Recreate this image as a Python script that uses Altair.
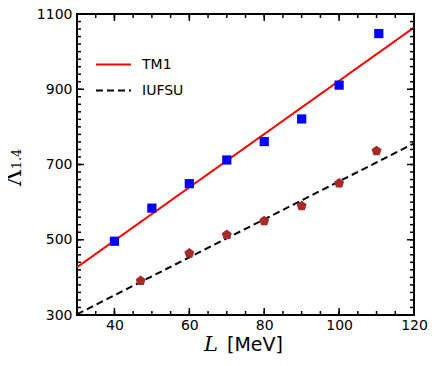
import altair as alt
import pandas as pd

# ---- data ----
tm1_L = [40, 50, 60, 70, 80, 90, 100, 110.6]
tm1_lam = [496, 584, 649, 712, 761, 821, 911, 1048]
iufsu_L = [47, 60, 70, 80, 90, 100, 110]
iufsu_lam = [391, 464, 513, 550, 590, 650, 736]
fit_L = [30, 120]
tm1_fit = [427, 1064]
iufsu_fit = [302, 756]
models = ["TM1", "IUFSU"]
x_minor = list(range(30, 121, 5))
y_minor = list(range(300, 1101, 20))
x_major = [40, 60, 80, 100, 120]
y_major = [300, 500, 700, 900, 1100]

W, H = 337, 301

pts_tm1 = pd.DataFrame({"L": tm1_L, "lam": tm1_lam})
pts_iu = pd.DataFrame({"L": iufsu_L, "lam": iufsu_lam})
lines = pd.DataFrame({
    "L": fit_L + fit_L,
    "lam": tm1_fit + iufsu_fit,
    "model": [models[0]] * 2 + [models[1]] * 2,
})

xs = alt.Scale(domain=[30, 120], nice=False, zero=False)
ys = alt.Scale(domain=[300, 1100], nice=False, zero=False)

leg = dict(title=None, orient="none", legendX=18, legendY=32,
           symbolType="stroke", symbolSize=1225, symbolStrokeWidth=2,
           labelFont="DejaVu Sans", labelFontSize=14, labelColor="black",
           rowPadding=-10, labelOffset=10)

line_layer = alt.Chart(lines).mark_line(strokeWidth=2, clip=True).encode(
    x=alt.X("L:Q", scale=xs, axis=alt.Axis(orient="bottom", values=x_major, ticks=False,
                                           domain=False, grid=False, title=None,
                                           labelFont="DejaVu Sans", labelFontSize=14,
                                           labelColor="black", labelPadding=3, format="d",
                                           labelFlush=False, labelOverlap=False)),
    y=alt.Y("lam:Q", scale=ys, axis=alt.Axis(orient="left", values=y_major, ticks=False,
                                             domain=False, grid=False, title=None,
                                             labelFont="DejaVu Sans", labelFontSize=14,
                                             labelColor="black", labelPadding=5, format="d",
                                             labelFlush=False, labelOverlap=False)),
    color=alt.Color("model:N", scale=alt.Scale(domain=models, range=["#ff0000", "black"]),
                    legend=alt.Legend(**leg)),
    strokeDash=alt.StrokeDash("model:N", scale=alt.Scale(domain=models, range=[[1, 0], [7, 4]]),
                              legend=alt.Legend(**leg)),
)

tm1_layer = alt.Chart(pts_tm1).mark_point(shape="square", filled=True, size=85,
                                          color="#0000ff", opacity=1).encode(
    x=alt.X("L:Q", scale=xs, axis=None),
    y=alt.Y("lam:Q", scale=ys, axis=None),
)

pent = "M0,-1L0.951,-0.309L0.588,0.809L-0.588,0.809L-0.951,-0.309Z"
iu_layer = alt.Chart(pts_iu).mark_point(shape=pent, filled=True, size=110,
                                        color="#a52a2a", opacity=1).encode(
    x=alt.X("L:Q", scale=xs, axis=None),
    y=alt.Y("lam:Q", scale=ys, axis=None),
)


# inward ticks on all four sides, placed through the shared scales
def xticks(values, size):
    d = pd.DataFrame({"v": values})
    base = alt.Chart(d).mark_rule(color="black", strokeWidth=1.5)
    bot = base.encode(x=alt.X("v:Q", scale=xs, axis=None),
                      y=alt.value(H), y2=alt.value(H - size))
    top = base.encode(x=alt.X("v:Q", scale=xs, axis=None),
                      y=alt.value(0), y2=alt.value(size))
    return [bot, top]


def yticks(values, size):
    d = pd.DataFrame({"v": values})
    base = alt.Chart(d).mark_rule(color="black", strokeWidth=1.5)
    left = base.encode(y=alt.Y("v:Q", scale=ys, axis=None),
                       x=alt.value(0), x2=alt.value(size))
    right = base.encode(y=alt.Y("v:Q", scale=ys, axis=None),
                        x=alt.value(W), x2=alt.value(W - size))
    return [left, right]


tick_layers = xticks(x_minor, 4) + xticks(x_major, 7) + yticks(y_minor, 4) + yticks(y_major, 7)

one = pd.DataFrame({"a": [0]})
ttl_lam = alt.Chart(one).mark_text(font="DejaVu Serif", fontSize=22, angle=270,
                                   align="center", baseline="middle", color="black").encode(
    x=alt.value(-63), y=alt.value(164), text=alt.value("Λ"))
ttl_sub = alt.Chart(one).mark_text(font="DejaVu Serif", fontSize=13, angle=270,
                                   align="center", baseline="middle", color="black").encode(
    x=alt.value(-60), y=alt.value(145), text=alt.value("1.4"))
ttl_L = alt.Chart(one).mark_text(font="DejaVu Serif", fontSize=21, fontStyle="italic",
                                 align="center", baseline="middle", color="black").encode(
    x=alt.value(134), y=alt.value(331), text=alt.value("L"))
ttl_mev = alt.Chart(one).mark_text(font="DejaVu Sans", fontSize=19,
                                   align="left", baseline="middle", color="black").encode(
    x=alt.value(150), y=alt.value(331), text=alt.value("[MeV]"))

chart = alt.layer(line_layer, *tick_layers, tm1_layer, iu_layer,
                  ttl_lam, ttl_sub, ttl_L, ttl_mev).resolve_axis(
    x="independent", y="independent"
).properties(
    width=W, height=H,
    autosize=alt.AutoSizeParams(type="none"),
    padding={"left": 69, "top": 6, "right": 14, "bottom": 51},
).configure_view(stroke="black", strokeWidth=2)

chart.save("out.html", embed_options={"renderer": "svg", "actions": False})
